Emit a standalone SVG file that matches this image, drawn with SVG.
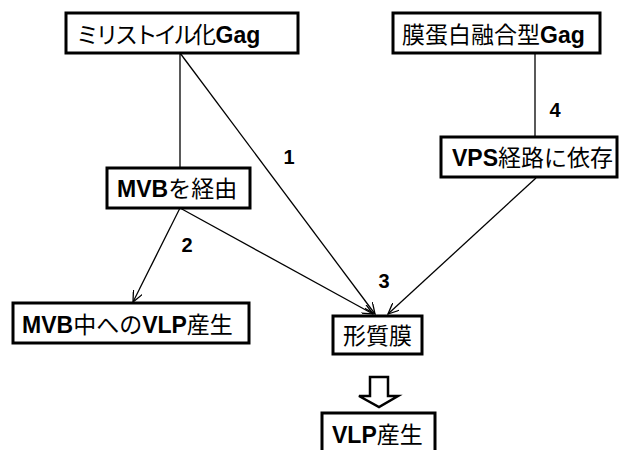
<svg xmlns="http://www.w3.org/2000/svg" width="629" height="450" viewBox="0 0 629 450">
<defs>
<style>
.box{fill:#fff;stroke:#000;stroke-width:3}
.t{font-family:"Noto Sans CJK JP","Liberation Sans",sans-serif;font-size:23px;fill:#000}
.l{font-family:"Liberation Sans",Arial,sans-serif;font-weight:bold}
.k{letter-spacing:-3.5px}
.n{font-family:"Liberation Sans",Arial,sans-serif;font-weight:bold;font-size:20px;fill:#000;text-anchor:middle}
.c{stroke:#000;stroke-width:1.3;fill:none}
</style>
<marker id="ah" viewBox="0 0 12 10" refX="11" refY="5" markerWidth="12" markerHeight="10" markerUnits="userSpaceOnUse" orient="auto">
<path d="M0,0 L11,5 L0,10" fill="none" stroke="#000" stroke-width="1.3"/>
</marker>
</defs>
<g id="connectors">
<line class="c" x1="180" y1="53" x2="180" y2="168"/>
<line class="c" x1="535" y1="53" x2="535" y2="137"/>
<line class="c" x1="180" y1="53" x2="375" y2="314" marker-end="url(#ah)"/>
<line class="c" x1="180" y1="208" x2="133" y2="302" marker-end="url(#ah)"/>
<line class="c" x1="180" y1="208" x2="373" y2="314" marker-end="url(#ah)"/>
<line class="c" x1="536" y1="178" x2="388" y2="314" marker-end="url(#ah)"/>
<polygon points="370,377 388,377 388,396 398,396 379,407 359,396 370,396" fill="#fff" stroke="#000" stroke-width="2.5" stroke-linejoin="miter"/>
<text class="n" x="289" y="164">1</text>
<text class="n" x="187" y="252">2</text>
<text class="n" x="384" y="288">3</text>
<text class="n" x="555" y="117">4</text>
</g>
<g id="myr">
<rect class="box" x="66" y="13" width="232" height="40"/>
<text class="t" x="76" y="43"><tspan class="k">ミリストイル化</tspan><tspan class="l" dx="3">Gag</tspan></text>
</g>
<g id="mem">
<rect class="box" x="393" y="13" width="207" height="40"/>
<text class="t" x="402" y="43">膜蛋白融合型<tspan class="l">Gag</tspan></text>
</g>
<g id="mvb">
<rect class="box" x="107" y="168" width="143" height="40"/>
<text class="t" x="117" y="197"><tspan class="l">MVB</tspan>を経由</text>
</g>
<g id="vps">
<rect class="box" x="441" y="137" width="176" height="40"/>
<text class="t" x="452" y="166"><tspan class="l">VPS</tspan>経路に依存</text>
</g>
<g id="mvbvlp">
<rect class="box" x="13" y="303" width="236" height="40"/>
<text class="t" x="22" y="333"><tspan class="l">MVB</tspan>中への<tspan class="l">VLP</tspan>産生</text>
</g>
<g id="pm">
<rect class="box" x="333" y="316" width="89" height="38"/>
<text class="t" x="343" y="344">形質膜</text>
</g>
<g id="vlp">
<rect class="box" x="322" y="413" width="113" height="44"/>
<text class="t" x="332" y="443"><tspan class="l">VLP</tspan>産生</text>
</g>
</svg>
